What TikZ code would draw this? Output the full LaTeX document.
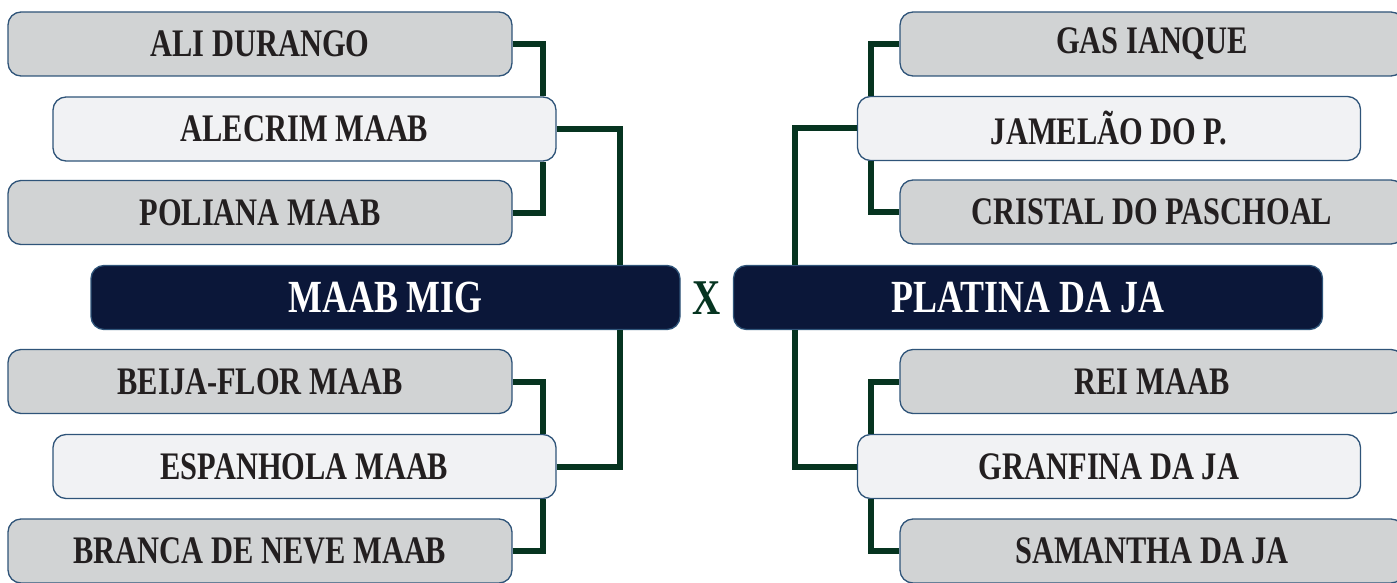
\documentclass[tikz,border=0pt]{standalone}
\usepackage{fontspec}
\setmainfont{Liberation Serif}[FakeStretch=0.78]
\usetikzlibrary{positioning}

\definecolor{boxgray}{HTML}{D1D3D4}
\definecolor{boxlight}{HTML}{F1F2F4}
\definecolor{navy}{HTML}{0B1739}
\definecolor{edgeblue}{HTML}{2F5479}
\definecolor{linkgreen}{HTML}{063420}
\definecolor{ink}{HTML}{231F20}

\begin{document}
\begin{tikzpicture}[x=1pt,y=-1pt,
  team/.style={draw=edgeblue,line width=1.3pt,rounded corners=13pt,
    minimum width=504pt,minimum height=64pt,inner sep=0pt,
    text=ink,font=\fontsize{39}{42}\selectfont\bfseries},
  seed/.style={team,fill=boxgray},
  host/.style={team,fill=boxlight,minimum width=503pt},
  final/.style={team,fill=navy,minimum width=589pt,text=white,
    font=\fontsize{46}{48}\selectfont\bfseries},
  link/.style={draw=linkgreen,line width=6pt}]
\useasboundingbox (0,0) rectangle (1397,583);
\clip (0,0) rectangle (1397,583);

% Define the junction columns
\coordinate (jl1) at (543,0);
\coordinate (jl2) at (620,0);
\coordinate (jr1) at (871,0);
\coordinate (jr2) at (795,0);

% Left bracket
\node[seed] (L1) at (260,44) {ALI DURANGO};
\node[host] (L2) at (304.5,129) {ALECRIM MAAB};
\node[seed] (L3) at (260,212.5) {POLIANA MAAB};
\node[final] (M) at (385.5,297.5) {MAAB MIG};
\node[seed] (L4) at (260,381.5) {BEIJA-FLOR MAAB};
\node[host] (L5) at (304.5,466.5) {ESPANHOLA MAAB};
\node[seed] (L6) at (260,551) {BRANCA DE NEVE MAAB};

% Right bracket
\node[seed] (R1) at (1152,44) {GAS IANQUE};
\node[host] (R2) at (1109,128.5) {JAMELÃO DO P.};
\node[seed] (R3) at (1152,212) {CRISTAL DO PASCHOAL};
\node[final] (P) at (1028,297.5) {PLATINA DA JA};
\node[seed] (R4) at (1152,381.5) {REI MAAB};
\node[host] (R5) at (1109,466.5) {GRANFINA DA JA};
\node[seed] (R6) at (1152,551) {SAMANTHA DA JA};

% Versus mark
\node[text=linkgreen,font=\fontsize{50}{52}\selectfont\bfseries] (vs) at (707,298) {X};

% Draw the connectors
\draw[link] (L1.east) -| (L2.north -| jl1);
\draw[link] (L3.east) -| (L2.south -| jl1);
\draw[link] (L2.east) -| (M.north -| jl2);
\draw[link] (L4.east) -| (L5.north -| jl1);
\draw[link] (L6.east) -| (L5.south -| jl1);
\draw[link] (L5.east) -| (M.south -| jl2);

\draw[link] (R1.west) -| (R2.north -| jr1);
\draw[link] (R3.west) -| (R2.south -| jr1);
\draw[link] (R2.west) -| (P.north -| jr2);
\draw[link] (R4.west) -| (R5.north -| jr1);
\draw[link] (R6.west) -| (R5.south -| jr1);
\draw[link] (R5.west) -| (P.south -| jr2);
\end{tikzpicture}
\end{document}
